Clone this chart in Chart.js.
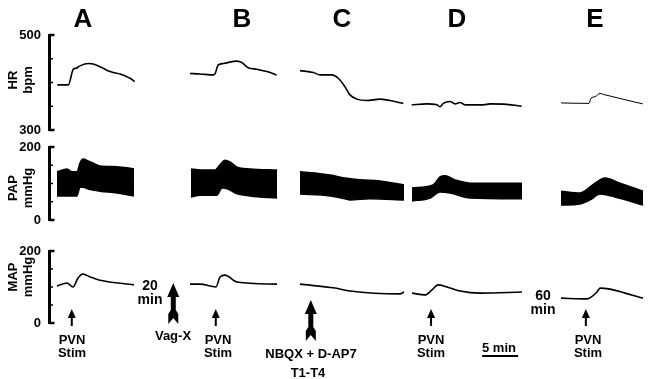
<!DOCTYPE html>
<html>
<head>
<meta charset="utf-8">
<script src="https://cdn.jsdelivr.net/npm/chart.js@4"></script>
<style>
body { margin: 0; background: #fff; }
#wrap { position: relative; width: 649px; height: 379px; overflow: hidden; background: #fff;
        font-family: "Liberation Sans", Arial, sans-serif; font-weight: bold; color: #000; }
#wrap canvas { position: absolute; left: 0; top: 0; }
.lbl { position: absolute; transform: translate(-50%, -50%); text-align: center; white-space: nowrap; line-height: 1; }
.letter { font-size: 26px; }
.ax { font-size: 13px; line-height: 15px; transform: translate(-50%, -50%) rotate(-90deg); }
.note { font-size: 13px; line-height: 13px; }
</style>
</head>
<body>
<div id="wrap">
  <canvas id="hrChart" width="649" height="379"></canvas>
  <canvas id="papChart" width="649" height="379"></canvas>
  <canvas id="mapChart" width="649" height="379"></canvas>

  <div class="lbl letter" style="left:83px;top:18px">A</div>
  <div class="lbl letter" style="left:242px;top:18px">B</div>
  <div class="lbl letter" style="left:342px;top:18px">C</div>
  <div class="lbl letter" style="left:457px;top:18px">D</div>
  <div class="lbl letter" style="left:595px;top:18px">E</div>

  <div class="lbl ax" style="left:20px;top:80px">HR<br>bpm</div>
  <div class="lbl ax" style="left:20px;top:188px">PAP<br>mmHg</div>
  <div class="lbl ax" style="left:20px;top:277px">MAP<br>mmHg</div>

  <div class="lbl note" style="left:150px;top:292px;line-height:14px;font-size:14px">20<br>min</div>
  <div class="lbl note" style="left:543px;top:302px;line-height:14px;font-size:14px">60<br>min</div>

  <div class="lbl note" style="left:72px;top:346px">PVN<br>Stim</div>
  <div class="lbl note" style="left:218px;top:346px">PVN<br>Stim</div>
  <div class="lbl note" style="left:431px;top:346px">PVN<br>Stim</div>
  <div class="lbl note" style="left:588px;top:346px">PVN<br>Stim</div>

  <div class="lbl note" style="left:173px;top:335px">Vag-X</div>
  <div class="lbl note" style="left:311px;top:353px">NBQX + D-AP7</div>
  <div class="lbl note" style="left:308px;top:372px">T1-T4</div>
  <div class="lbl note" style="left:499px;top:347px">5 min</div>
</div>
<script>
// time axis in displayed minutes (recording is cut between panels)
const tMin = 0;
const tMax = 83.47;

// heart rate, bpm  [minute, value]
const hrA = [[1.29,395],[2.82,395],[3.51,428],[3.89,430],[4.44,435],[5.60,440],[6.29,439],[7.22,433],[8.15,426],[9.07,421],[10.0,418],[10.69,414],[11.39,409],[12.04,402]];
const hrB = [[19.72,419],[21.11,418],[22.96,416],[23.19,418],[23.65,437],[24.35,440],[26.21,445],[26.90,442],[27.82,431],[28.99,428],[30.38,423],[31.76,416]];
const hrC = [[35.0,425],[36.85,421],[37.78,416],[39.40,416],[40.32,409],[41.25,391],[41.94,374],[42.88,365],[44.26,362],[46.11,365],[47.50,362],[49.35,356]];
const hrD = [[50.51,353],[52.60,355],[53.99,353],[54.44,349],[54.90,356],[55.83,360],[56.53,355],[57.22,358],[57.92,353],[60.46,353],[61.39,355],[63.71,354],[65.79,350]];
const hrE = [[71.25,357],[75.14,356],[75.42,367],[75.97,370],[76.67,377],[77.13,375],[82.6,355]];

// pulsatile arterial pressure envelope, mmHg
const papTopA = [[1.25,132],[2.64,140],[3.33,132],[4.03,132],[4.44,156],[4.86,167],[5.56,162],[6.25,156],[7.22,148],[9.58,146],[11.94,140]];
const papLowA = [[1.25,66],[4.03,66],[4.17,74],[4.44,90],[4.86,90],[5.56,85],[7.22,79],[9.58,74],[11.94,66]];
const papTopB = [[19.86,140],[21.11,137],[23.19,137],[23.89,151],[24.58,164],[25.28,159],[26.25,145],[28.06,140],[31.81,137]];
const papLowB = [[19.86,63],[21.11,68],[23.47,68],[24.17,88],[25.0,85],[25.97,74],[28.06,66],[31.81,60]];
const papTopC = [[35.0,132],[37.08,129],[39.17,123],[41.25,115],[43.33,110],[46.11,107],[49.44,96]];
const papLowC = [[35.0,71],[39.17,66],[41.25,58],[41.94,55],[44.72,58],[49.44,55]];
const papTopD = [[50.56,88],[53.47,96],[54.44,118],[55.14,121],[56.53,110],[58.61,101],[65.83,101]];
const papLowD = [[50.56,52],[53.06,60],[54.44,77],[55.83,74],[58.61,60],[65.83,58]];
const papTopE = [[71.25,79],[73.89,74],[75.97,101],[77.36,115],[79.44,101],[82.64,79]];
const papLowE = [[71.25,41],[73.89,44],[75.28,55],[76.67,71],[78.75,63],[82.64,41]];

// mean arterial pressure, mmHg
const mapA = [[1.25,103],[2.64,111],[3.47,100],[4.17,125],[4.86,136],[5.83,128],[7.22,119],[11.94,106]];
const mapB = [[19.72,108],[21.11,108],[23.33,100],[23.89,128],[24.58,133],[26.25,114],[31.81,108]];
const mapC = [[35.0,108],[39.86,97],[41.94,89],[48.89,81],[49.44,86]];
const mapD = [[50.56,83],[52.36,78],[53.33,92],[54.17,106],[55.42,100],[57.22,89],[60.0,83],[65.83,86]];
const mapE = [[71.25,69],[74.86,67],[76.25,86],[76.67,97],[78.06,94],[80.14,83],[82.64,69]];

// events, minutes
const stimTimes = [3.3, 23.3, 53.2, 74.7];
const drugTimes = [17.4, 36.5];
const scaleBar = [60.3, 65.3];

const FONT = '"Liberation Sans", Arial, sans-serif';

function pts(seg) {
    return seg.map(p => ({ x: p[0], y: p[1] }));
}

function line(seg, width) {
    return {
        data: pts(seg),
        borderColor: '#000',
        borderWidth: width,
        pointRadius: 0,
        fill: false,
        cubicInterpolationMode: 'monotone'
    };
}

// the left axis is a bracket with inward ticks
const bracketAxis = {
    id: 'bracketAxis',
    afterDraw(chart) {
        const y = chart.scales.y;
        const ctx = chart.ctx;
        const x0 = chart.chartArea.left + 1.5;
        const top = y.getPixelForValue(y.max);
        const bot = y.getPixelForValue(y.min);
        ctx.save();
        ctx.strokeStyle = '#000';
        ctx.lineWidth = 3;
        ctx.beginPath();
        ctx.moveTo(x0, top - 1);
        ctx.lineTo(x0, bot + 1);
        ctx.stroke();
        y.ticks.forEach(t => {
            const py = y.getPixelForValue(t.value);
            const end = t.value === y.min || t.value === y.max;
            ctx.lineWidth = end ? 2.5 : 1.5;
            ctx.beginPath();
            ctx.moveTo(x0, py);
            ctx.lineTo(x0 + (end ? 5 : 3.5), py);
            ctx.stroke();
        });
        ctx.restore();
    }
};

function smallArrow(ctx, x) {
    ctx.fillRect(x - 1, 316, 2, 10);
    ctx.beginPath();
    ctx.moveTo(x, 309);
    ctx.lineTo(x + 4, 318);
    ctx.lineTo(x - 4, 318);
    ctx.closePath();
    ctx.fill();
}

function bigArrow(ctx, x, tip) {
    ctx.beginPath();
    ctx.moveTo(x, tip);
    ctx.lineTo(x + 6, tip + 14);
    ctx.lineTo(x + 2.5, tip + 14);
    ctx.lineTo(x + 2.5, tip + 27);
    ctx.lineTo(x + 5, tip + 31);
    ctx.lineTo(x + 5, tip + 41);
    ctx.lineTo(x, tip + 35);
    ctx.lineTo(x - 5, tip + 41);
    ctx.lineTo(x - 5, tip + 31);
    ctx.lineTo(x - 2.5, tip + 27);
    ctx.lineTo(x - 2.5, tip + 14);
    ctx.lineTo(x - 6, tip + 14);
    ctx.closePath();
    ctx.fill();
}

const eventMarks = {
    id: 'eventMarks',
    afterDraw(chart) {
        const xs = chart.scales.x;
        const ctx = chart.ctx;
        ctx.save();
        ctx.fillStyle = '#000';
        stimTimes.forEach(t => smallArrow(ctx, xs.getPixelForValue(t)));
        const tips = [283, 300];
        drugTimes.forEach((t, i) => bigArrow(ctx, xs.getPixelForValue(t), tips[i]));
        const b0 = xs.getPixelForValue(scaleBar[0]);
        const b1 = xs.getPixelForValue(scaleBar[1]);
        ctx.fillRect(b0, 355, b1 - b0, 2);
        ctx.restore();
    }
};

function traceChart(id, datasets, yMin, yMax, padTop, padBottom, extra) {
    return new Chart(document.getElementById(id), {
        type: 'line',
        data: { datasets: datasets },
        options: {
            responsive: false,
            animation: false,
            events: [],
            layout: { padding: { top: padTop, bottom: padBottom, left: 0, right: 0 } },
            plugins: { legend: { display: false }, tooltip: { enabled: false } },
            scales: {
                x: { type: 'linear', display: false, min: tMin, max: tMax },
                y: {
                    min: yMin,
                    max: yMax,
                    afterFit: s => { s.width = 48; },
                    grid: { display: false, drawTicks: false },
                    border: { display: false },
                    ticks: {
                        stepSize: 50,
                        autoSkip: false,
                        padding: 7,
                        color: '#000',
                        font: { family: FONT, size: 13, weight: 'bold' },
                        callback: v => (v === yMin || v === yMax) ? String(v) : ''
                    }
                }
            }
        },
        plugins: extra ? [bracketAxis, extra] : [bracketAxis]
    });
}

const hrSets = [hrA, hrB, hrC, hrD].map(s => line(s, 1.6));
hrSets.push(line(hrE, 1));

const papPairs = [[papLowA, papTopA], [papLowB, papTopB], [papLowC, papTopC], [papLowD, papTopD], [papLowE, papTopE]];
const papSets = [];
papPairs.forEach(pair => {
    papSets.push(line(pair[0], 1.5));
    const up = line(pair[1], 1.5);
    up.fill = '-1';
    up.backgroundColor = '#000';
    papSets.push(up);
});

const mapSets = [mapA, mapB, mapC, mapD, mapE].map(s => line(s, 1.6));

traceChart('hrChart', hrSets, 300, 500, 35, 249);
traceChart('papChart', papSets, 0, 200, 147, 159);
traceChart('mapChart', mapSets, 0, 200, 251, 56, eventMarks);
</script>
</body>
</html>
